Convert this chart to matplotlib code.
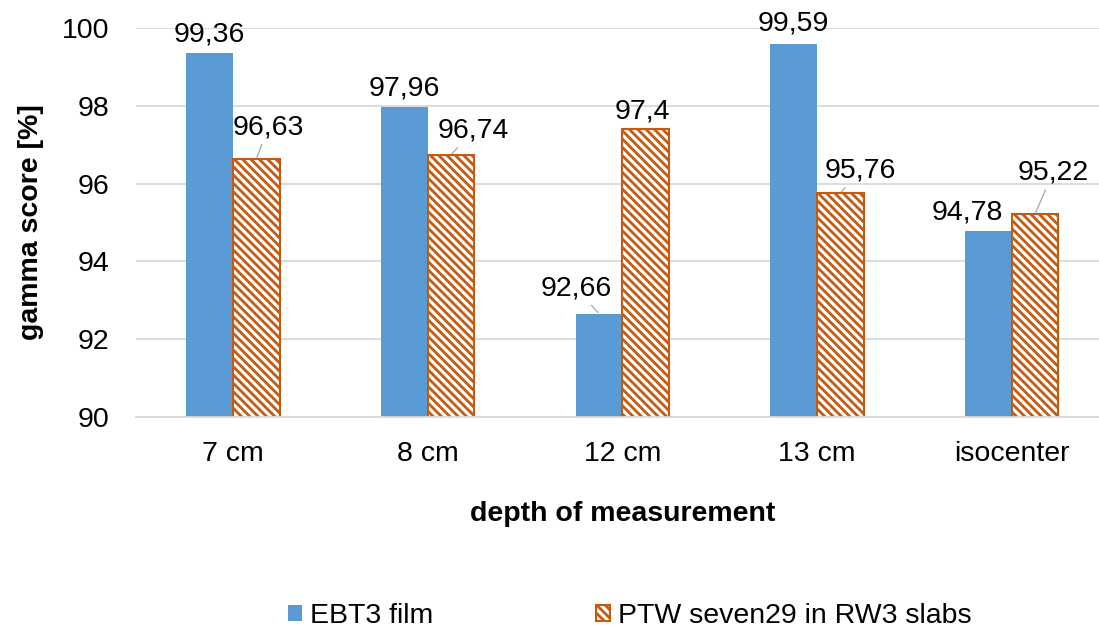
import matplotlib

matplotlib.use("Agg")
import matplotlib.pyplot as plt  # noqa: E402
import numpy as np  # noqa: E402

# data
depths = ["7 cm", "8 cm", "12 cm", "13 cm", "isocenter"]
ebt3 = [99.36, 97.96, 92.66, 99.59, 94.78]
ptw = [96.63, 96.74, 97.4, 95.76, 95.22]
series_names = ["EBT3 film", "PTW seven29 in RW3 slabs"]

BLUE, ORANGE, GRID = "#5B9BD5", "#C55A11", "#D9D9D9"
DPI = 100
FS = 20.5

# label offsets from the bar top (pixels: dx, up) and whether Excel drew a leader line
ebt3_off = [(0, 18), (0, 19), (-23, 25), (0, 20), (-21, 19)]
ebt3_lead = [False, False, True, False, False]
ptw_off = [(12, 32), (22, 24), (-3, 18), (20, 22), (18, 41)]
ptw_lead = [True, True, False, True, True]

plt.rcParams["font.family"] = ["Liberation Sans", "DejaVu Sans"]
plt.rcParams["hatch.linewidth"] = 2.0


def fmt(v):
    return f"{v:g}".replace(".", ",")


def label_bars(ax, xs, vals, offs, leads):
    px = 72 / DPI
    for x, v, (dx, up), lead in zip(xs, vals, offs, leads):
        kw = {}
        if lead:
            kw["arrowprops"] = dict(arrowstyle="-", color="#A6A6A6", lw=0.9,
                                    shrinkA=1, shrinkB=1)
        ax.annotate(fmt(v), xy=(x, v), xytext=(dx * px, up * px),
                    textcoords="offset points", ha="center", va="center",
                    fontsize=FS, annotation_clip=False, **kw)


fig = plt.figure(figsize=(1099 / DPI, 630 / DPI), dpi=DPI)
ax = fig.add_axes([135.6 / 1099, 1 - 417 / 630, (1109 - 135.6) / 1099, (417 - 28) / 630])

x = np.arange(len(depths))
w = 0.24
ax.bar(x - w / 2, ebt3, width=w, color=BLUE, label=series_names[0], zorder=2)
ax.bar(x + w / 2, ptw, width=w, color="white", edgecolor=ORANGE, hatch="\\\\\\\\",
       linewidth=1.5, label=series_names[1], zorder=2)

label_bars(ax, x - w / 2, ebt3, ebt3_off, ebt3_lead)
label_bars(ax, x + w / 2, ptw, ptw_off, ptw_lead)

ax.set_xlim(-0.5, len(depths) - 0.5)
ax.set_ylim(90, 100)
ax.set_yticks(range(90, 101, 2))
ax.set_xticks(x)
ax.set_xticklabels(depths)
ax.tick_params(axis="both", length=0, labelsize=FS)
ax.tick_params(axis="x", pad=17)
ax.tick_params(axis="y", pad=19)
ax.yaxis.grid(True, color=GRID, lw=1.3, zorder=0)
ax.set_axisbelow(True)
for s in ["top", "right", "left"]:
    ax.spines[s].set_visible(False)
ax.spines["bottom"].set_color(GRID)
ax.spines["bottom"].set_linewidth(1.3)

ax.set_xlabel("depth of measurement", fontsize=FS, fontweight="bold", labelpad=25)
ax.set_ylabel("gamma score [%]", fontsize=FS, fontweight="bold", labelpad=13)

fig.legend(loc="center", bbox_to_anchor=(630 / 1099, 1 - 616 / 630), ncol=2,
           frameon=False, fontsize=FS, handlelength=0.49, handleheight=0.49,
           handletextpad=0.28, columnspacing=5.7)

fig.savefig("out.png", dpi=DPI)
